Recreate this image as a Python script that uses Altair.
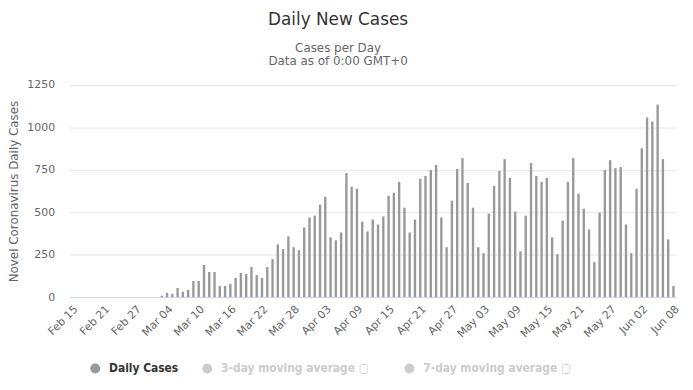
import altair as alt
import pandas as pd

# Categories: one bar per day, Feb 15 .. Jun 08 (2020)
dates = [d.strftime("%b %d") for d in pd.date_range("2020-02-15", "2020-06-08")]

# Daily new cases
daily_cases = [
    0, 0, 0, 0, 0, 0, 0, 0, 0, 0, 0, 0, 0, 0, 0, 0, 0,
    8, 25, 19, 54, 31, 43, 95, 95, 189, 148, 148,
    66, 66, 78, 113, 142, 136, 177, 130, 113, 177, 224, 311, 282, 358, 294, 276,
    410, 469, 480, 545, 591, 352, 335, 381, 731, 650,
    638, 445, 387, 457, 428, 475, 597, 615, 679, 527, 381, 457, 696, 714, 749, 778,
    469, 294, 568, 755, 819, 673, 527, 294, 259, 492, 655, 743, 813, 702, 504,
    270, 480, 790, 714, 679, 702, 352, 253, 451, 679, 819, 609, 521, 399, 206,
    498, 749, 807, 760, 766, 428, 259, 638, 877, 1058, 1035, 1134, 813, 340, 66,
]

series_names = ["Daily Cases", "3-day moving average", "7-day moving average"]
series_colors = ["#999999", "#cccccc", "#cccccc"]
x_tick_labels = dates[::6]
y_ticks = [0, 250, 500, 750, 1000, 1250]

df = pd.DataFrame({"date": dates, "cases": daily_cases, "series": series_names[0]})

FONT = "DejaVu Sans"

chart = alt.Chart(df).mark_bar(color="#999999").encode(
    x=alt.X(
        "date:O",
        sort=None,
        scale=alt.Scale(paddingInner=0.55, paddingOuter=0.275),
        axis=alt.Axis(
            values=x_tick_labels,
            title=None,
            labelAngle=-45,
            labelFont=FONT,
            labelFontSize=11,
            labelColor="#666666",
            labelPadding=6,
            ticks=False,
            grid=False,
            domainColor="#ccd6eb",
        ),
    ),
    y=alt.Y(
        "cases:Q",
        scale=alt.Scale(domain=[0, 1250], nice=False),
        axis=alt.Axis(
            values=y_ticks,
            format="d",
            title="Novel Coronavirus Daily Cases",
            titleFont=FONT,
            titleFontSize=12,
            titleFontWeight="normal",
            titleColor="#666666",
            titlePadding=6,
            labelFont=FONT,
            labelFontSize=11,
            labelColor="#666666",
            labelPadding=15,
            domain=False,
            ticks=False,
            gridColor="#e6e6e6",
        ),
    ),
    color=alt.Color(
        "series:N",
        scale=alt.Scale(domain=series_names, range=series_colors),
        legend=alt.Legend(
            title=None,
            orient="none",
            legendX=20,
            legendY=280,
            direction="horizontal",
            columns=3,
            symbolType="circle",
            symbolSize=100,
            symbolStrokeWidth=0,
            labelFont="DejaVu Sans Condensed",
            labelFontSize=12,
            labelFontWeight="bold",
            labelColor=alt.ExprRef("datum.label == 'Daily Cases' ? '#333333' : '#cccccc'"),
            labelOffset=8,
            labelLimit=0,
            columnPadding=23,
            labelExpr="datum.label == 'Daily Cases' ? datum.label : datum.label + '    \u25a2'",
        ),
    ),
).properties(
    width=612,
    height=214,
    padding={"left": 62, "top": 76, "right": 9, "bottom": 84},
    autosize=alt.AutoSizeParams(type="none"),
    title=alt.TitleParams(
        text="Daily New Cases",
        subtitle=["Cases per Day", "Data as of 0:00 GMT+0"],
        anchor="middle",
        dx=-35,
        offset=11,
        font=FONT,
        fontSize=17,
        fontWeight="normal",
        color="#333333",
        subtitleFont=FONT,
        subtitleFontSize=12,
        subtitleColor="#666666",
        subtitleLineHeight=13,
        subtitlePadding=15,
    ),
).configure_view(stroke=None)

chart.save("out.html", embed_options={"renderer": "svg", "actions": False})
